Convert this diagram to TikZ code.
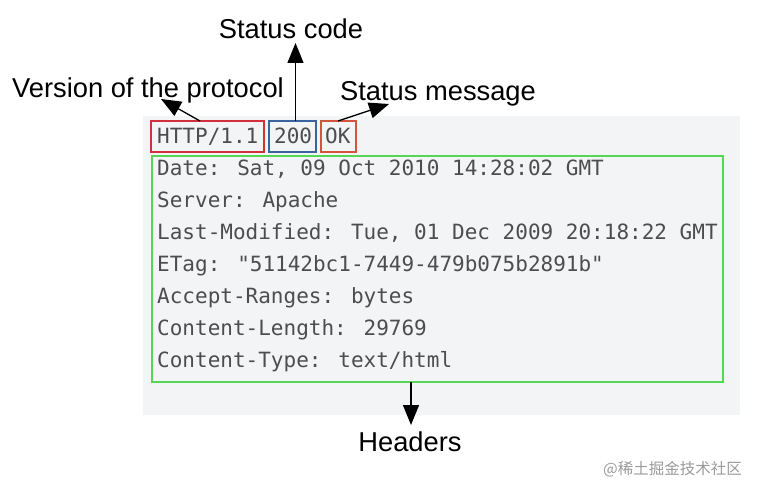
\documentclass[tikz,border=0pt]{standalone}
\usepackage{fontspec}
\setmainfont{Liberation Sans}
\newfontfamily\monofont{DejaVu Sans Mono}
\newfontfamily\cjkfont{Noto Sans CJK SC}
\usetikzlibrary{arrows.meta}
\definecolor{panel}{HTML}{F3F4F5}
\definecolor{codegray}{HTML}{4D4D4D}
\definecolor{redbox}{HTML}{D2303A}
\definecolor{bluebox}{HTML}{3A64A0}
\definecolor{okbox}{HTML}{D4553C}
\definecolor{greenbox}{HTML}{55D655}
\definecolor{wm}{HTML}{9A9A9A}
\begin{document}
\begin{tikzpicture}[x=1pt,y=-1pt,
  code/.style={font=\monofont\fontsize{21}{21}\selectfont, text=codegray, anchor=base west, inner sep=0pt},
  label/.style={font=\fontsize{27.3}{27.3}\selectfont, text=black, anchor=base, inner sep=0pt},
  frame/.style={draw=#1, line width=1.1pt},
  pointer/.style={draw=black, line width=1.3pt, -{Triangle[length=20pt,width=16pt]}}]
\useasboundingbox (0,0) rectangle (758,494);
\fill[panel] (143,116) rectangle (740,415);
% boxes
\draw[frame=redbox] (151,121) rectangle (264,152);
\draw[frame=bluebox] (269,121) rectangle (316,152);
\draw[frame=okbox] (321,121) rectangle (356,152);
\draw[frame=greenbox] (152,156) rectangle (723,382);
\coordinate (vtop) at (200,121);
\coordinate (ctop) at (295.5,121);
\coordinate (mtop) at (338,121);
\coordinate (hbot) at (411,382);
% first line
\node[code] (http) at (157,144) {HTTP/1.1};
\node[code] (code) at (274,144) {200};
\node[code] (ok) at (325,144) {OK};
% headers
\node[code] (h1) at (157,176) {Date: Sat, 09 Oct 2010 14:28:02 GMT};
\node[code] (h2) at (157,208) {Server: Apache};
\node[code] (h3) at (157,240) {Last-Modified: Tue, 01 Dec 2009 20:18:22 GMT};
\node[code] (h4) at (157,272) {ETag: "51142bc1-7449-479b075b2891b"};
\node[code] (h5) at (157,304) {Accept-Ranges: bytes};
\node[code] (h6) at (157,336) {Content-Length: 29769};
\node[code] (h7) at (157,368) {Content-Type: text/html};
% labels
\node[label] (lversion) at (148,98) {Version of the protocol};
\node[label] (lcode) at (291,39) {Status code};
\node[label] (lmsg) at (438,101) {Status message};
\node[label] (lhead) at (410,451) {Headers};
\coordinate (tv) at (161,99);
\coordinate (tc) at (295.5,43);
\coordinate (tm) at (389,104);
\coordinate (th) at (411,425);
\draw[pointer] (vtop) -- (tv);
\draw[pointer] (ctop) -- (tc);
\draw[pointer] (mtop) -- (tm);
\draw[pointer] (hbot) -- (th);
% watermark
\node[font=\cjkfont\fontsize{15.5}{15.5}\selectfont, text=wm, anchor=base east, inner sep=0pt] (wmark) at (742,474) {@稀土掘金技术社区};
\end{tikzpicture}
\end{document}
